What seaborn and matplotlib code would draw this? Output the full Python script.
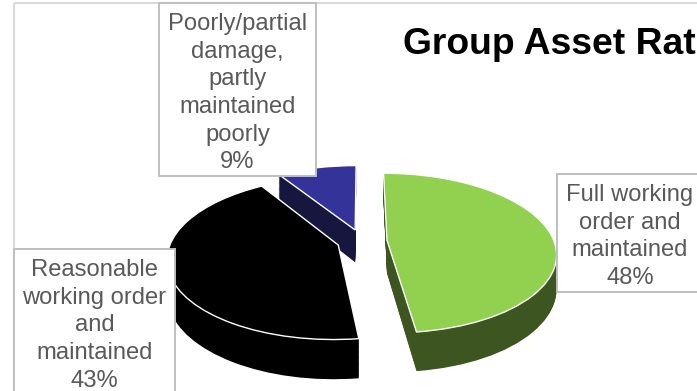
import matplotlib
matplotlib.use("Agg")
import numpy as np
import matplotlib.pyplot as plt
import seaborn as sns
from matplotlib.transforms import Transform
from matplotlib.patches import Rectangle

categories = ["Full working\norder and\nmaintained",
              "Reasonable\nworking order\nand\nmaintained",
              "Poorly/partial\ndamage,\npartly\nmaintained\npoorly"]
values = [48, 43, 9]
top_colors = ["#92D050", "#000000", "#333399"]
wall_colors = ["#3D5520", "#000000", "#16163F"]
title = "Group Asset Rat"

sns.set_theme(style="white")
plt.rcParams["font.family"] = ["Liberation Sans", "DejaVu Sans"]


class Tilted(Transform):
    """Projects the flat pie (unit radius) on a tilted plane, in pixel units."""
    input_dims = output_dims = 2
    is_affine = False
    has_inverse = False

    def __init__(self, drop=0.0):
        super().__init__()
        self.drop = drop

    def transform_non_affine(self, xy):
        xy = np.asarray(xy, float)
        s = 1.0 / (1.0 + 0.16 * xy[:, 1])
        return np.column_stack([362 + 167 * xy[:, 0] * s,
                                241 - 78 * xy[:, 1] * s + self.drop * s])


fig = plt.figure(figsize=(6.97, 3.91), dpi=100)
ax = fig.add_axes([0, 0, 1, 1])


def draw(order, drop, colors, edge=None, lw=0):
    wedges, _ = ax.pie(values, explode=[0.15] * 3, colors=colors, startangle=90,
                       counterclock=False, radius=1,
                       wedgeprops=dict(edgecolor=edge if edge else "none",
                                       linewidth=lw))
    for i, w in enumerate(wedges):
        w.set_transform(Tilted(drop) + ax.transData)
        w.set_zorder(order + (2 - i) * 100)
    return wedges


DEPTH = 33
for d in range(DEPTH, 0, -1):
    draw(DEPTH - d, d, wall_colors)
draw(DEPTH + 1, 0, top_colors, edge="white", lw=1.0)

ax.set_aspect("auto")
ax.set_xlim(0, 697)
ax.set_ylim(391, 0)
ax.axis("off")

# chart frame
ax.add_patch(Rectangle((13.5, 3), 800, 500, fill=False, ec="#D9D9D9", lw=1.5, zorder=500))
ax.text(403, 44, title, fontsize=26.8, fontweight="bold", color="black",
        ha="left", va="center", zorder=900)

boxes = [(557, 174, 146, 118), (14, 249, 161, 150), (159, 3, 157, 173)]
for (lab, v, (x, y, w, h)) in zip(categories, values, boxes):
    ax.add_patch(Rectangle((x, y), w, h, fc="white", ec="#BFBFBF", lw=1.4, zorder=800))
    ax.text(x + w / 2, y + 10, f"{lab}\n{v}%", fontsize=17.1,
            color="#595959", ha="center", va="top", linespacing=1.335, zorder=900)

fig.savefig("out.png", dpi=100)
